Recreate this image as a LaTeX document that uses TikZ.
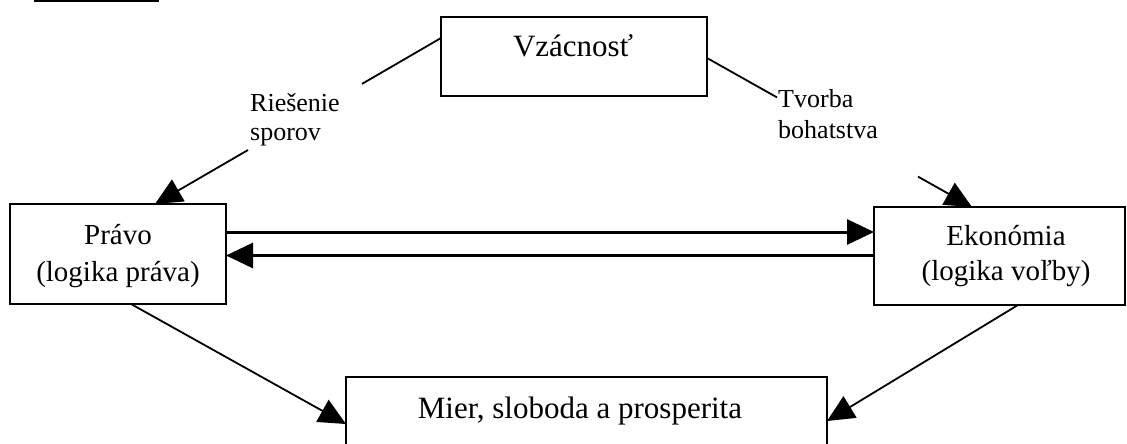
\documentclass[tikz,border=0pt]{standalone}
\usepackage{fontspec}
\setmainfont{Liberation Serif}
\usetikzlibrary{arrows.meta,calc,backgrounds}
\begin{document}
\begin{tikzpicture}[x=1pt,y=-1pt,
  box/.style={draw=black, line width=2.5pt, fill=white, inner sep=0pt, outer sep=0pt},
  conn/.style={line width=1.8pt},
  arr/.style={conn, -{Triangle[length=27pt,width=25pt]}},
  harr/.style={line width=3pt, -{Triangle[length=27pt,width=25pt]}},
  lbl/.style={font=\fontsize{26}{30}\selectfont, inner sep=0pt, anchor=base west},
  btxt/.style={font=\fontsize{29}{34}\selectfont, inner sep=0pt, anchor=base},
  btxtL/.style={font=\fontsize{31}{36}\selectfont, inner sep=0pt, anchor=base}]
\useasboundingbox (0,0) rectangle (1127,444);
\clip (0,0) rectangle (1127,444);

% boxes
\node[box, minimum width=266pt, minimum height=79pt] (vz) at (574,56.5) {};
\node[box, minimum width=216pt, minimum height=100pt] (pravo) at (118,254) {};
\node[box, minimum width=251pt, minimum height=98pt] (eko) at (999.5,256) {};
\node[box, minimum width=481pt, minimum height=90pt] (mier) at (586.5,422) {};

% texts
\node[btxtL] (vzT) at (573,57) {Vzácnosť};
\node[btxt] (pravoT1) at (118,244) {Právo};
\node[btxt] (pravoT2) at (118,281) {(logika práva)};
\node[btxt] (ekoT1) at (1006,245) {Ekonómia};
\node[btxt] (ekoT2) at (1006,280) {(logika voľby)};
\node[btxtL] (mierT) at (580,418) {Mier, sloboda a prosperita};
\node[lbl] (lblL1) at (250,111) {Riešenie};
\node[lbl] (lblL2) at (250,140) {sporov};
\node[lbl] (lblR1) at (778,107) {Tvorba};
\node[lbl] (lblR2) at (778,138) {bohatstva};

% connector points
\coordinate (a0) at ($(vz.north west)+(0,21)$);
\coordinate (a1) at (362,83.9);
\coordinate (a2) at (248,150);
\coordinate (a3) at ($(pravo.north west)+(145,0)$);
\coordinate (b0) at ($(vz.north east)+(0,41)$);
\coordinate (b1) at (777,97.4);
\coordinate (b2) at (918,176.6);
\coordinate (b3) at ($(eko.north west)+(98,0)$);
\coordinate (c0) at ($(pravo.south west)+(121,0)$);
\coordinate (c1) at ($(mier.north west)+(0,47)$);
\coordinate (d0) at ($(eko.south west)+(144,0)$);
\coordinate (d1) at ($(mier.north east)+(0,44)$);
\coordinate (h0) at ($(pravo.north east)+(0,28)$);
\coordinate (h1) at ($(eko.north west)+(0,25)$);
\coordinate (h2) at ($(eko.north west)+(0,48.5)$);
\coordinate (h3) at ($(pravo.north east)+(0,51.5)$);

\begin{scope}[on background layer]
  \draw[conn] (a0) -- (a1);
  \draw[arr] (a2) -- (a3);
  \draw[conn] (b0) -- (b1);
  \draw[arr] (b2) -- (b3);
  \draw[arr] (c0) -- (c1);
  \draw[arr] (d0) -- (d1);
  \draw[harr] (h0) -- (h1);
  \draw[harr] (h2) -- (h3);
\end{scope}

% top-left rule
\draw[line width=2.5pt] (34,1) -- (159,1);
\end{tikzpicture}
\end{document}
